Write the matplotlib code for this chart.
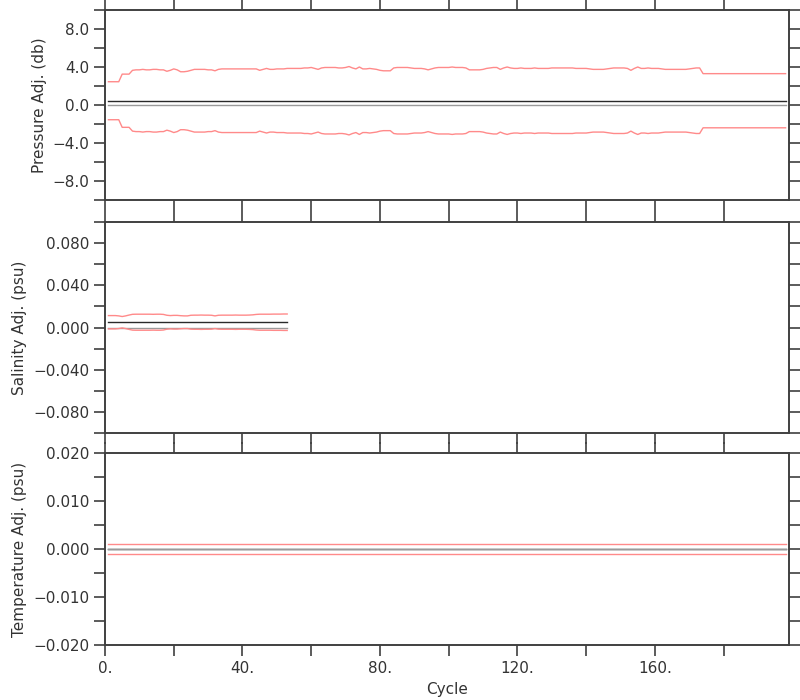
import numpy as np
import matplotlib
matplotlib.use("Agg")
import matplotlib.pyplot as plt
from matplotlib.ticker import MultipleLocator, FuncFormatter

# pressure adjustment: constant offset, error band varies by cycle
pres_adj = 0.45
pres_err = [
    2.0, 2.0, 2.0, 2.0, 2.8, 2.8, 2.8, 3.2, 3.25, 3.25,
    3.3, 3.25, 3.25, 3.3, 3.3, 3.25, 3.25, 3.1, 3.2, 3.35,
    3.25, 3.05, 3.05, 3.1, 3.2, 3.3, 3.3, 3.3, 3.3, 3.25,
    3.25, 3.15, 3.3, 3.35, 3.35, 3.35, 3.35, 3.35, 3.35, 3.35,
    3.35, 3.35, 3.35, 3.35, 3.2, 3.3, 3.4, 3.3, 3.3, 3.35,
    3.35, 3.35, 3.4, 3.4, 3.4, 3.4, 3.4, 3.45, 3.45, 3.5,
    3.4, 3.3, 3.45, 3.5, 3.5, 3.5, 3.5, 3.45, 3.45, 3.5,
    3.6, 3.45, 3.35, 3.55, 3.35, 3.35, 3.4, 3.35, 3.3, 3.2,
    3.15, 3.15, 3.15, 3.45, 3.5, 3.5, 3.5, 3.5, 3.45, 3.4,
    3.4, 3.4, 3.35, 3.25, 3.35, 3.45, 3.5, 3.5, 3.5, 3.5,
    3.55, 3.5, 3.5, 3.5, 3.45, 3.25, 3.25, 3.25, 3.25, 3.3,
    3.4, 3.45, 3.5, 3.5, 3.3, 3.45, 3.55, 3.45, 3.4, 3.4,
    3.45, 3.4, 3.4, 3.4, 3.45, 3.4, 3.4, 3.4, 3.4, 3.45,
    3.45, 3.45, 3.45, 3.45, 3.45, 3.45, 3.4, 3.4, 3.4, 3.4,
    3.35, 3.3, 3.3, 3.3, 3.3, 3.35, 3.4, 3.45, 3.45, 3.45,
    3.45, 3.4, 3.2, 3.4, 3.55, 3.4, 3.4, 3.45, 3.4, 3.4,
    3.4, 3.35, 3.3, 3.3, 3.3, 3.3, 3.3, 3.3, 3.3, 3.35,
    3.4, 3.45, 3.45, 2.85, 2.85, 2.85, 2.85, 2.85, 2.85, 2.85,
    2.85, 2.85, 2.85, 2.85, 2.85, 2.85, 2.85, 2.85, 2.85, 2.85,
    2.85, 2.85, 2.85, 2.85, 2.85, 2.85, 2.85, 2.85,
]

sal_adj = 0.005
sal_err = [
    0.0063, 0.0063, 0.0063, 0.0060, 0.0054, 0.0060, 0.0068, 0.0075, 0.0076, 0.0076,
    0.0076, 0.0076, 0.0076, 0.0075, 0.0076, 0.0076, 0.0074, 0.0066, 0.0063, 0.0065,
    0.0065, 0.0062, 0.0060, 0.0060, 0.0066, 0.0067, 0.0067, 0.0068, 0.0067, 0.0067,
    0.0066, 0.0060, 0.0066, 0.0067, 0.0067, 0.0067, 0.0067, 0.0068, 0.0067, 0.0067,
    0.0067, 0.0068, 0.0070, 0.0074, 0.0076, 0.0076, 0.0076, 0.0076, 0.0077, 0.0077,
    0.0077, 0.0078, 0.0078,
]

temp_adj = 0.0
temp_err = 0.001
n_temp = 198

pres_cyc = np.arange(1, len(pres_err) + 1)
sal_cyc = np.arange(1, len(sal_err) + 1)
temp_cyc = np.arange(1, n_temp + 1)

RED = "#ff8a8a"
BLK = "#2a2a2a"
GRY = "#9a9a9a"
AXC = "#404040"

plt.rcParams["font.family"] = ["DejaVu Sans"]
plt.rcParams["font.size"] = 11

fig = plt.figure(figsize=(8, 7), dpi=100)

L, W = 105 / 800, 684 / 800
ax1 = fig.add_axes([L, 1 - 200 / 700, W, 190 / 700])
ax2 = fig.add_axes([L, 1 - 433 / 700, W, 211 / 700])
ax3 = fig.add_axes([L, 1 - 645 / 700, W, 192 / 700])


def draw(ax, cyc, adj, err):
    adj = np.full(len(cyc), adj)
    err = np.asarray(err) * np.ones(len(cyc))
    ax.plot(cyc, adj, color=BLK, lw=1.0)
    ax.plot(cyc, np.zeros(len(cyc)), color=GRY, lw=1.0)
    ax.plot(cyc, adj + err, color=RED, lw=1.0)
    ax.plot(cyc, adj - err, color=RED, lw=1.0)


draw(ax1, pres_cyc, pres_adj, pres_err)
draw(ax2, sal_cyc, sal_adj, sal_err)
draw(ax3, temp_cyc, temp_adj, temp_err)


def fmt(spec):
    return FuncFormatter(lambda v, p: format(v, spec).replace("-", "\u2212"))


ax1.set_ylim(-10, 10)
ax1.yaxis.set_major_locator(MultipleLocator(4))
ax1.yaxis.set_minor_locator(MultipleLocator(2))
ax1.yaxis.set_major_formatter(fmt(".1f"))
ax1.set_ylabel("Pressure Adj. (db)")

ax2.set_ylim(-0.1, 0.1)
ax2.yaxis.set_major_locator(MultipleLocator(0.04))
ax2.yaxis.set_minor_locator(MultipleLocator(0.02))
ax2.yaxis.set_major_formatter(fmt(".3f"))
ax2.set_ylabel("Salinity Adj. (psu)")

ax3.set_ylim(-0.02, 0.02)
ax3.yaxis.set_major_locator(MultipleLocator(0.01))
ax3.yaxis.set_minor_locator(MultipleLocator(0.005))
ax3.yaxis.set_major_formatter(fmt(".3f"))
ax3.set_ylabel("Temperature Adj. (psu)")
ax3.set_xlabel("Cycle")

for ax in (ax1, ax2, ax3):
    ax.set_xlim(0, 199)
    ax.xaxis.set_major_locator(MultipleLocator(40))
    ax.xaxis.set_minor_locator(MultipleLocator(20))
    ax.xaxis.set_major_formatter(FuncFormatter(lambda v, p: f"{v:.0f}."))
    ax.tick_params(which="both", direction="out", length=8, width=1.2,
                   color=AXC, top=True, right=True, labelcolor="#333333")
    for s in ax.spines.values():
        s.set_color(AXC)
        s.set_linewidth(1.4)
    ax.yaxis.label.set_color("#333333")
    ax.xaxis.label.set_color("#333333")

ax1.tick_params(labelbottom=False)
ax2.tick_params(labelbottom=False)

fig.savefig("out.png", dpi=100)
